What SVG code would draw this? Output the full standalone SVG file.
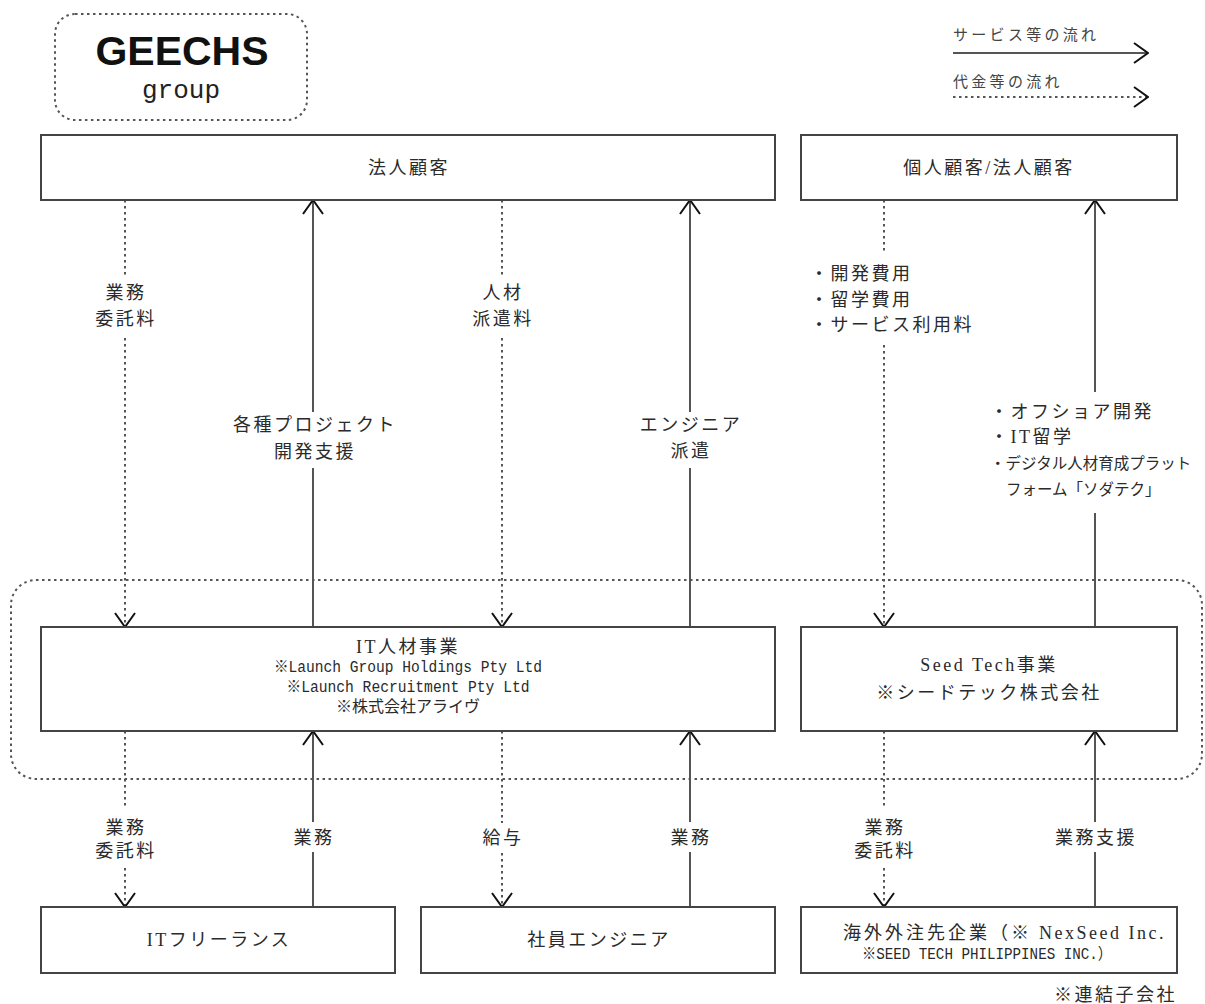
<svg xmlns="http://www.w3.org/2000/svg" width="1205" height="1004" viewBox="0 0 1205 1004">
<defs>
<marker id="arr" viewBox="0 0 16 22" refX="15" refY="11" markerWidth="16" markerHeight="22" markerUnits="userSpaceOnUse" orient="auto">
<path d="M1,1 L15,11 L1,21" fill="none" stroke="#111" stroke-width="2"/>
</marker>
<style>
.box{fill:#fff;stroke:#444;stroke-width:2}
.grp{fill:none;stroke:#555;stroke-width:2;stroke-dasharray:2.5 3.5}
.sol{stroke:#555;stroke-width:2;fill:none}
.dot{stroke:#555;stroke-width:2;stroke-dasharray:2.5 3.5;fill:none}
.t{font-family:"Liberation Serif","Noto Sans CJK JP",serif;font-size:18px;fill:#2a2a2a;letter-spacing:2.5px;text-anchor:middle;dominant-baseline:central}
.l{text-anchor:start}
.m{font-family:"Liberation Mono","Noto Sans CJK JP",monospace;font-size:16px;letter-spacing:0px}
.lg{font-size:15px;letter-spacing:3.3px;fill:#444}
.r{font-size:15.5px;letter-spacing:0px}
</style>
</defs>
<rect x="0" y="0" width="1205" height="1004" fill="#fff"/>

<g id="logo">
<rect x="55" y="14" width="252" height="106" rx="20" class="grp"/>
<text x="182" y="65" font-family="Liberation Sans, Arial, sans-serif" font-weight="bold" font-size="41" fill="#111" text-anchor="middle">GEECHS</text>
<text x="181" y="98" font-family="Liberation Mono, monospace" font-size="26" fill="#222" text-anchor="middle">group</text>
</g>

<g id="legend">
<text x="953" y="35" class="t l lg">サービス等の流れ</text>
<line x1="953" y1="53" x2="1148" y2="53" class="sol" marker-end="url(#arr)"/>
<text x="953" y="82" class="t l lg">代金等の流れ</text>
<line x1="953" y1="97" x2="1148" y2="97" class="dot" marker-end="url(#arr)"/>
</g>

<g id="group-frame">
<rect x="11" y="580" width="1191" height="199" rx="25" class="grp"/>
</g>

<g id="connectors">
<line x1="125" y1="200" x2="125" y2="276" class="dot"/>
<line x1="125" y1="338" x2="125" y2="627" class="dot" marker-end="url(#arr)"/>
<line x1="313" y1="627" x2="313" y2="468" class="sol"/>
<line x1="313" y1="412" x2="313" y2="200" class="sol" marker-end="url(#arr)"/>
<line x1="502" y1="200" x2="502" y2="276" class="dot"/>
<line x1="502" y1="338" x2="502" y2="627" class="dot" marker-end="url(#arr)"/>
<line x1="690" y1="627" x2="690" y2="468" class="sol"/>
<line x1="690" y1="412" x2="690" y2="200" class="sol" marker-end="url(#arr)"/>
<line x1="884" y1="200" x2="884" y2="253" class="dot"/>
<line x1="884" y1="345" x2="884" y2="627" class="dot" marker-end="url(#arr)"/>
<line x1="1095" y1="627" x2="1095" y2="513" class="sol"/>
<line x1="1095" y1="392" x2="1095" y2="200" class="sol" marker-end="url(#arr)"/>
<line x1="125" y1="731" x2="125" y2="807" class="dot"/>
<line x1="125" y1="868" x2="125" y2="907" class="dot" marker-end="url(#arr)"/>
<line x1="313" y1="907" x2="313" y2="852" class="sol"/>
<line x1="313" y1="822" x2="313" y2="731" class="sol" marker-end="url(#arr)"/>
<line x1="502" y1="731" x2="502" y2="823" class="dot"/>
<line x1="502" y1="853" x2="502" y2="907" class="dot" marker-end="url(#arr)"/>
<line x1="690" y1="907" x2="690" y2="852" class="sol"/>
<line x1="690" y1="822" x2="690" y2="731" class="sol" marker-end="url(#arr)"/>
<line x1="884" y1="731" x2="884" y2="807" class="dot"/>
<line x1="884" y1="868" x2="884" y2="907" class="dot" marker-end="url(#arr)"/>
<line x1="1095" y1="907" x2="1095" y2="852" class="sol"/>
<line x1="1095" y1="822" x2="1095" y2="731" class="sol" marker-end="url(#arr)"/>
</g>

<g id="connector-labels">
<text x="126" y="293" class="t">業務</text>
<text x="126" y="319" class="t">委託料</text>
<text x="315" y="425" class="t">各種プロジェクト</text>
<text x="315" y="452" class="t">開発支援</text>
<text x="503" y="293" class="t">人材</text>
<text x="503" y="319" class="t">派遣料</text>
<text x="691" y="425" class="t">エンジニア</text>
<text x="691" y="451" class="t">派遣</text>
<text x="810" y="274" class="t l" letter-spacing="2">・開発費用</text>
<text x="810" y="300" class="t l" letter-spacing="2">・留学費用</text>
<text x="810" y="325" class="t l" letter-spacing="2">・サービス利用料</text>
<text x="990" y="412" class="t l" letter-spacing="2">・オフショア開発</text>
<text x="990" y="437" class="t l" letter-spacing="2">・IT留学</text>
<text x="990" y="463" class="t l r">・デジタル人材育成プラット</text>
<text x="1006" y="489" class="t l r">フォーム「ソダテク」</text>
<text x="126" y="828" class="t">業務</text>
<text x="126" y="851" class="t">委託料</text>
<text x="314" y="838" class="t">業務</text>
<text x="503" y="838" class="t">給与</text>
<text x="691" y="838" class="t">業務</text>
<text x="885" y="828" class="t">業務</text>
<text x="885" y="851" class="t">委託料</text>
<text x="1096" y="838" class="t">業務支援</text>
</g>

<g id="node-hojin">
<rect x="41" y="135" width="734" height="65" class="box"/>
<text x="409" y="168" class="t" letter-spacing="3">法人顧客</text>
</g>
<g id="node-kojin">
<rect x="801" y="135" width="376" height="65" class="box"/>
<text x="989" y="168" class="t" letter-spacing="2.7">個人顧客/法人顧客</text>
</g>
<g id="node-it">
<rect x="41" y="627" width="734" height="104" class="box"/>
<text x="408" y="647" class="t" font-size="17" letter-spacing="1">IT人材事業</text>
<text x="408" y="668" class="t m" textLength="268" lengthAdjust="spacingAndGlyphs">※Launch Group Holdings Pty Ltd</text>
<text x="408" y="688" class="t m" textLength="243" lengthAdjust="spacingAndGlyphs">※Launch Recruitment Pty Ltd</text>
<text x="408" y="708" class="t m" font-size="15" letter-spacing="0">※株式会社アライヴ</text>
</g>
<g id="node-seedtech">
<rect x="801" y="627" width="376" height="104" class="box"/>
<text x="989" y="665" class="t" font-size="19" letter-spacing="1">Seed Tech事業</text>
<text x="989" y="693" class="t" font-size="19" letter-spacing="2.5">※シードテック株式会社</text>
</g>
<g id="node-freelance">
<rect x="41" y="907" width="354" height="66" class="box"/>
<text x="219" y="940" class="t">ITフリーランス</text>
</g>
<g id="node-shain">
<rect x="421" y="907" width="354" height="66" class="box"/>
<text x="599" y="940" class="t" letter-spacing="2.7">社員エンジニア</text>
</g>
<g id="node-kaigai">
<rect x="801" y="907" width="376" height="66" class="box"/>
<text x="843" y="933" class="t l" letter-spacing="0"><tspan letter-spacing="3">海外外注先企業（※</tspan> NexSeed Inc.</text>
<text x="987" y="955" class="t m" textLength="250" lengthAdjust="spacingAndGlyphs">※SEED TECH PHILIPPINES INC.）</text>
</g>
<g id="note">
<text x="1177" y="995" class="t" style="text-anchor:end" font-size="17" letter-spacing="1">※連結子会社</text>
</g>
</svg>
